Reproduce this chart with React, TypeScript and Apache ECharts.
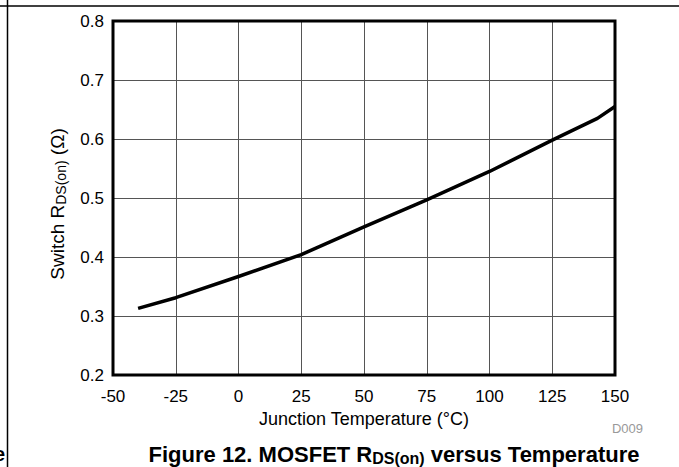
import React, { useEffect, useRef } from "react";
import * as echarts from "echarts";

const temperatures = [-40, -25, 0, 25, 50, 75, 100, 125, 143, 150];
const rdson = [0.313, 0.331, 0.367, 0.404, 0.451, 0.497, 0.545, 0.598, 0.635, 0.655];
const xTicks = [-50, -25, 0, 25, 50, 75, 100, 125, 150];
const yTicks = [0.2, 0.3, 0.4, 0.5, 0.6, 0.7, 0.8];

const FONT = "'Liberation Sans', Arial, sans-serif";

export default function App() {
  const ref = useRef<HTMLDivElement>(null);
  useEffect(() => {
    document.body.style.margin = "0";
    const chart = echarts.init(ref.current!, null, { renderer: "svg" });
    chart.setOption({
      animation: false,
      backgroundColor: "#fff",
      grid: {
        left: 113,
        top: 21,
        width: 502,
        height: 354,
        show: true,
        borderColor: "#000",
        borderWidth: 3,
        backgroundColor: "transparent",
        z: 3,
      },
      xAxis: {
        type: "value",
        min: xTicks[0],
        max: xTicks[xTicks.length - 1],
        interval: 25,
        name: "Junction Temperature (°C)",
        nameLocation: "middle",
        nameGap: 35,
        nameTextStyle: { fontFamily: FONT, fontSize: 18, color: "#000" },
        axisLine: { show: false },
        axisTick: { show: false },
        axisLabel: { fontFamily: FONT, fontSize: 17, color: "#000", margin: 13 },
        splitLine: { show: true, lineStyle: { color: "#555", width: 1 } },
      },
      yAxis: {
        type: "value",
        min: yTicks[0],
        max: yTicks[yTicks.length - 1],
        interval: 0.1,
        name: "Switch R{sub|DS(on)} (Ω)",
        nameLocation: "middle",
        nameGap: 45,
        nameRotate: 90,
        nameTextStyle: {
          fontFamily: FONT,
          fontSize: 19,
          color: "#000",
          padding: [0, 12, 0, 0],
          rich: { sub: { fontFamily: FONT, fontSize: 14, color: "#000", verticalAlign: "bottom", padding: [7, 0, 0, 0] } },
        },
        axisLine: { show: false },
        axisTick: { show: false },
        axisLabel: {
          fontFamily: FONT,
          fontSize: 17,
          color: "#000",
          margin: 9,
          formatter: (v: number) => v.toFixed(1),
        },
        splitLine: { show: true, lineStyle: { color: "#555", width: 1 } },
      },
      series: [
        {
          type: "line",
          data: temperatures.map((t, i) => [t, rdson[i]]),
          showSymbol: false,
          smooth: false,
          lineStyle: { color: "#000", width: 3.5, join: "round", cap: "butt" },
          z: 4,
        },
      ],
      graphic: [
        { type: "line", shape: { x1: 0, y1: 6, x2: 679, y2: 6 }, style: { stroke: "#000", lineWidth: 1.5 } },
        { type: "line", shape: { x1: 7.5, y1: 0, x2: 7.5, y2: 467 }, style: { stroke: "#000", lineWidth: 1.5 } },
        {
          type: "text",
          x: 5,
          y: 454,
          style: { text: "e", font: `bold 20px ${FONT}`, fill: "#000", align: "right", verticalAlign: "middle" },
        },
        {
          type: "text",
          x: 643,
          y: 428,
          style: { text: "D009", font: `13px ${FONT}`, fill: "#999", align: "right", verticalAlign: "middle" },
        },
        {
          type: "text",
          x: 394,
          y: 454,
          style: {
            text: "{b|Figure 12. MOSFET R}{s|DS(on)}{b| versus Temperature}",
            align: "center",
            verticalAlign: "middle",
            rich: {
              b: { fontFamily: FONT, fontWeight: "bold", fontSize: 22, color: "#000" },
              s: { fontFamily: FONT, fontWeight: "bold", fontSize: 16, color: "#000", verticalAlign: "bottom", padding: [9, 0, 0, 0] },
            },
          },
        },
      ],
    });
    return () => chart.dispose();
  }, []);
  return <div ref={ref} style={{ width: 679, height: 467 }} />;
}
